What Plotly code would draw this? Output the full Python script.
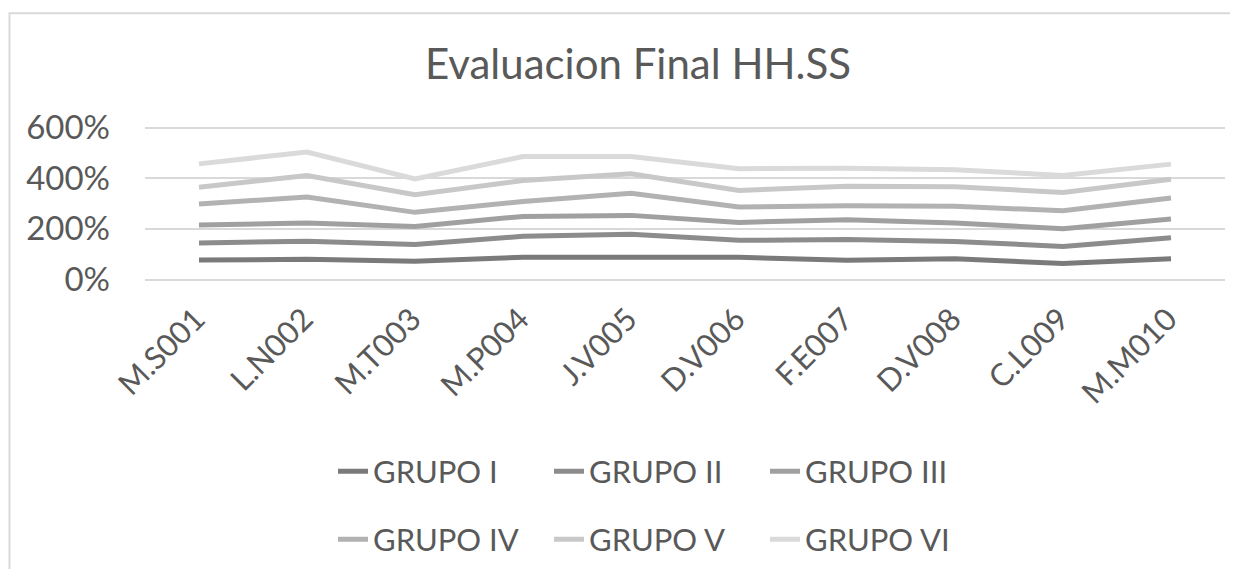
import plotly.graph_objects as go

categories = ["M.S001", "L.N002", "M.T003", "M.P004", "J.V005",
              "D.V006", "F.E007", "D.V008", "C.L009", "M.M010"]

grupo_i   = [0.75, 0.78, 0.70, 0.86, 0.86, 0.86, 0.74, 0.80, 0.61, 0.80]
grupo_ii  = [0.68, 0.72, 0.67, 0.83, 0.91, 0.67, 0.82, 0.69, 0.68, 0.83]
grupo_iii = [0.71, 0.72, 0.71, 0.79, 0.75, 0.71, 0.79, 0.73, 0.70, 0.75]
grupo_iv  = [0.83, 1.03, 0.56, 0.59, 0.88, 0.61, 0.55, 0.66, 0.71, 0.83]
grupo_v   = [0.66, 0.85, 0.70, 0.83, 0.77, 0.66, 0.77, 0.77, 0.73, 0.74]
grupo_vi  = [0.93, 0.93, 0.62, 0.95, 0.68, 0.86, 0.72, 0.68, 0.67, 0.60]

series_names = ["GRUPO I", "GRUPO II", "GRUPO III", "GRUPO IV", "GRUPO V", "GRUPO VI"]
series_values = [grupo_i, grupo_ii, grupo_iii, grupo_iv, grupo_v, grupo_vi]
colors = ["#7a7a7a", "#8c8c8c", "#a0a0a0", "#b2b2b2", "#c8c8c8", "#dadada"]

FONT = "Lato"
TXT = "#595959"
# page body has an 8px margin, so the figure is 8px smaller and coordinates are shifted
W, H = 1230, 561
ML, MR = 137, 13
MT, MB = 117.2, 289.7
PW, PH = W - ML - MR, H - MT - MB

fig = go.Figure()
for i, (name, vals, col) in enumerate(zip(series_names, series_values, colors)):
    fig.add_trace(go.Scatter(
        x=categories, y=vals, name=name, mode="lines",
        stackgroup="one", fill="none",
        line=dict(color=col, width=5),
        legend="legend" if i < 3 else "legend2",
    ))

def px_to_paper_x(px):
    return (px - ML) / PW

def px_to_paper_y(py):
    return (H - MB - py) / PH

fig.update_layout(
    width=W, height=H,
    margin=dict(l=ML, r=MR, t=MT, b=MB, autoexpand=False),
    paper_bgcolor="white", plot_bgcolor="white",
    font=dict(family=FONT, color=TXT, size=31),
    title=dict(text="Evaluacion Final HH.SS", x=630 / W, xref="container",
               xanchor="center", y=1 - 56 / H, yref="container", yanchor="middle",
               font=dict(size=42, color=TXT, family=FONT)),
    xaxis=dict(type="category", range=[-0.5, 9.5], showgrid=False,
               showline=True, linecolor="#d9d9d9", linewidth=1.5,
               tickangle=-45, ticks="", ticklabelstandoff=8, ticklabelshift=-3,
               tickfont=dict(size=31, color=TXT)),
    yaxis=dict(range=[0, 6.1], tickvals=[0, 2, 4, 6], tickformat=".0%", showgrid=True,
               gridcolor="#d9d9d9", gridwidth=1.5, zeroline=False, showline=False,
               ticks="", ticklabelstandoff=34, tickfont=dict(size=33, color=TXT)),
    legend=dict(orientation="h", x=px_to_paper_x(325), xanchor="left",
                y=px_to_paper_y(464), yanchor="middle", entrywidth=171,
                font=dict(size=31, color=TXT), bgcolor="rgba(0,0,0,0)"),
    legend2=dict(orientation="h", x=px_to_paper_x(325), xanchor="left",
                 y=px_to_paper_y(532), yanchor="middle", entrywidth=171,
                 font=dict(size=31, color=TXT), bgcolor="rgba(0,0,0,0)"),
    shapes=[dict(type="rect", xref="paper", yref="paper",
                 x0=px_to_paper_x(1.5), x1=px_to_paper_x(1300),
                 y0=px_to_paper_y(5.5), y1=px_to_paper_y(700),
                 line=dict(color="#d9d9d9", width=2), fillcolor="rgba(0,0,0,0)",
                 layer="below")],
    showlegend=True,
)

fig.write_html("out.html")
